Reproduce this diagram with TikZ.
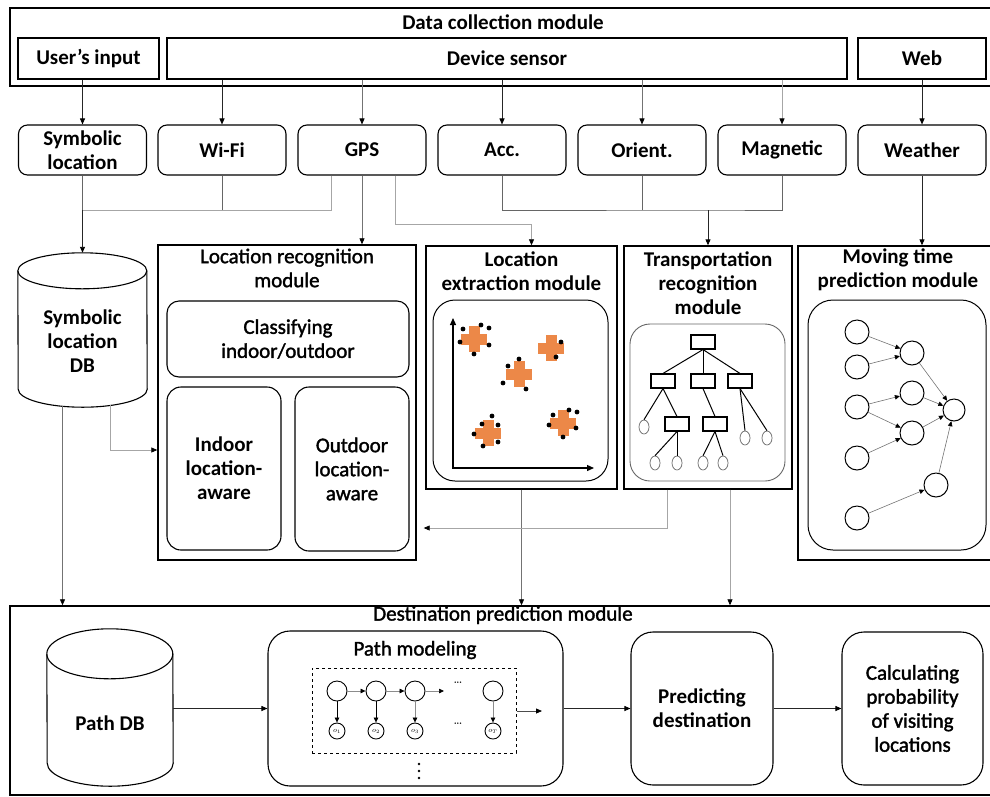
\documentclass[tikz,border=0pt]{standalone}
\usepackage{fontspec}
\setmainfont{Carlito}
\newfontfamily\medfont{Carlito}[FakeBold=1.6]
\usetikzlibrary{arrows.meta,calc,shapes.geometric}
\definecolor{orng}{RGB}{236,136,72}
\begin{document}
\begin{tikzpicture}[x=1pt,y=-1pt,
 every node/.style={inner sep=0pt, align=center, font=\fontsize{21}{24}\selectfont\bfseries},
 lt/.style={font=\fontsize{21}{24}\selectfont\medfont},
 sq/.style={draw, line width=1.2pt},
 rbox/.style={draw, line width=1.1pt, rounded corners=9pt},
 sens/.style={rbox, minimum width=128pt, minimum height=50pt},
 modf/.style={draw, line width=1.4pt},
 tipc/.style={-{Triangle[length=6pt,width=5pt,color=black]}},
 conn/.style={tipc, line width=0.9pt, draw=black!85},
 gconn/.style={tipc, line width=0.8pt, draw=black!55},
 lconn/.style={tipc, line width=0.7pt, draw=black!35},
 lead/.style={line width=0.8pt, draw=black!60},
 llead/.style={line width=0.7pt, draw=black!35},
 cyl/.style={draw, line width=1.1pt, fill=white},
 tb/.style={draw, line width=1.1pt, minimum width=24pt, minimum height=14pt},
 lf/.style={draw=black!60, line width=0.7pt, ellipse, minimum width=10pt, minimum height=14pt},
 tedge/.style={line width=1pt},
 nn/.style={draw, circle, line width=1pt, minimum size=24pt},
 medge/.style={line width=0.6pt, draw=black!55, -{Triangle[length=5pt,width=4.5pt,color=black]}},
 hs/.style={draw, circle, line width=0.9pt, minimum size=20pt},
 os/.style={draw, circle, line width=0.9pt, minimum size=16pt, font=\fontsize{7}{7}\selectfont},
 sedge/.style={line width=0.7pt, draw=black!45, -{Triangle[length=5pt,width=4.5pt,color=black]}},
 orplus/.pic={\fill[orng] (-5.5,-13) rectangle (5.5,13); \fill[orng] (-13,-5.5) rectangle (13,5.5);}
]
\useasboundingbox (0,0) rectangle (990,796);

% ---------- data collection module ----------
\node[modf, minimum width=985pt, minimum height=78pt] (dcm) at (502.5,47) {};
\node (dcmt) at (503,22) {Data collection module};
\node[sq, minimum width=141pt, minimum height=41pt] (uin) at (88.5,58.5) {User’s input};
\node[sq, minimum width=680pt, minimum height=41pt] (dev) at (507,58.5) {Device sensor};
\node[sq, minimum width=128pt, minimum height=41pt] (web) at (922,58.5) {Web};

% ---------- sensors ----------
\node[sens] (symloc) at (82.5,150) {Symbolic\\location};
\node[sens] (wifi) at (222,150) {Wi-Fi};
\node[sens] (gps) at (362,150) {GPS};
\node[sens] (acc) at (502,150) {Acc.};
\node[sens] (orient) at (642,150) {Orient.};
\node[sens] (magn) at (782,150) {Magnetic};
\node[sens] (weather) at (922,150) {Weather};

\draw[conn] (uin.south -| symloc.north) -- (symloc.north);
\draw[conn] (dev.south -| wifi.north) -- (wifi.north);
\draw[gconn] (dev.south -| gps.north) -- (gps.north);
\draw[conn] (dev.south -| acc.north) -- (acc.north);
\draw[gconn] (dev.south -| orient.north) -- (orient.north);
\draw[lconn] (dev.south -| magn.north) -- (magn.north);
\draw[conn] (web.south) -- (weather.north);

% ---------- symbolic location DB ----------
\node[minimum width=129pt, minimum height=154pt] (sdb) at (82.5,330) {};
\draw[cyl] ($(sdb.north west)+(0,18)$) arc[start angle=180,end angle=0,x radius=64.5pt,y radius=18pt]
  -- ($(sdb.south east)+(0,-18)$) arc[start angle=0,end angle=-180,x radius=64.5pt,y radius=18pt] -- cycle;
\draw[cyl, fill=none] ($(sdb.north west)+(0,18)$) arc[start angle=180,end angle=360,x radius=64.5pt,y radius=18pt];
\node (sdbt) at (82.5,341) {Symbolic\\location\\DB};

% ---------- location recognition module ----------
\node[modf, minimum width=258pt, minimum height=315pt] (lrm) at (287,402.5) {};
\node[lt] (lrmt) at (287,268) {Location recognition\\module};
\node[rbox, lt, rounded corners=12pt, minimum width=242pt, minimum height=76pt] (cls) at (288,339) {Classifying\\indoor/outdoor};
\node[rbox, rounded corners=14pt, minimum width=114pt, minimum height=163pt] (ind) at (224,468.5) {Indoor\\location-\\aware};
\node[rbox, lt, rounded corners=14pt, minimum width=114pt, minimum height=164pt] (outd) at (352,469) {Outdoor\\location-\\aware};

% ---------- location extraction module ----------
\node[modf, minimum width=191pt, minimum height=243pt] (lem) at (521.5,367.5) {};
\node (lemt) at (521.5,271) {Location\\extraction module};
\node[draw, line width=1pt, rounded corners=22pt, minimum width=175pt, minimum height=181pt] (lemi) at (520.5,390.5) {};
\coordinate (ax0) at (453,468);
\coordinate (axy) at (453,318);
\coordinate (axx) at (594,468);
\draw[line width=1.2pt, {Triangle[length=7pt,width=6pt]}-{Triangle[length=7pt,width=6pt]}] (axy) -- (ax0) -- (axx);
\pic at (474,339) {orplus};
\pic at (551,348) {orplus};
\pic at (519,374) {orplus};
\pic at (488,433) {orplus};
\pic at (563,423) {orplus};
\foreach \p in {(463,329),(481,325),(489,328),(460,342),(489,345),(474,354),
                (561,342),(556,357),
                (508,366),(519,359),(503,383),(526,389),
                (492,416),(482,424),(498,425),(474,434),(498,442),(483,446),
                (553,415),(569,410),(577,412),(549,425),(576,428),(563,437)}
  \fill \p circle[radius=2.4pt];

% ---------- transportation recognition module ----------
\node[modf, minimum width=168pt, minimum height=243pt] (trm) at (708,367.5) {};
\node (trmt) at (708,283) {Transportation\\recognition\\module};
\node[draw=black!60, line width=0.9pt, rounded corners=20pt, minimum width=155pt, minimum height=157pt] (trmi) at (707.5,402.5) {};
\node[tb] (t0) at (703,342) {};
\node[tb] (t1) at (663,381) {};
\node[tb] (t2) at (703,381) {};
\node[tb] (t3) at (740,381) {};
\node[tb] (t4) at (677,424) {};
\node[tb] (t5) at (715,424) {};
\node[lf] (l1) at (644,427) {};
\node[lf] (l2) at (745,438) {};
\node[lf] (l3) at (767,438) {};
\node[lf] (l4) at (655,463) {};
\node[lf] (l5) at (677,463) {};
\node[lf] (l6) at (703,463) {};
\node[lf] (l7) at (723,463) {};
\draw[tedge] (t0.south) -- (t1.north);
\draw[tedge] (t0.south) -- (t2.north);
\draw[tedge] (t0.south) -- (t3.north);
\draw[tedge] (t1.south) -- (l1.north);
\draw[tedge] (t1.south) -- (t4.north);
\draw[tedge] (t2.south) -- (t5.north);
\draw[tedge] (t3.south) -- (l2.north);
\draw[tedge] (t3.south) -- (l3.north);
\draw[tedge] (t4.south) -- (l4.north);
\draw[tedge] (t4.south) -- (l5.north);
\draw[tedge] (t5.south) -- (l6.north);
\draw[tedge] (t5.south) -- (l7.north);

% ---------- moving time prediction module ----------
\node[modf, minimum width=197pt, minimum height=314pt] (mtp) at (896.5,403) {};
\node (mtpt) at (898,270) {Moving time\\prediction module};
\node[draw, line width=1pt, rounded corners=25pt, minimum width=178pt, minimum height=250pt] (mtpi) at (897,425) {};
\node[nn] (c1) at (857,332) {};
\node[nn] (c2) at (857,367) {};
\node[nn] (c3) at (857,407) {};
\node[nn] (c4) at (857,458) {};
\node[nn] (c5) at (857,518) {};
\node[nn] (m1) at (912,353) {};
\node[nn] (m2) at (912,393) {};
\node[nn] (m3) at (912,433) {};
\node[nn] (m4) at (936,485) {};
\node[nn, minimum size=22pt] (rr) at (954,410) {};
\draw[medge] (c1) -- (m1);
\draw[medge] (c2) -- (m1);
\draw[medge] (c3) -- (m2);
\draw[medge] (c3) -- (m3);
\draw[medge] (c4) -- (m3);
\draw[medge] (c5) -- (m4);
\draw[medge] (m1) -- (rr);
\draw[medge] (m2) -- (rr);
\draw[medge] (m3) -- (rr);
\draw[medge] (m4) -- (rr);

% ---------- connectors of the second row ----------
\coordinate (j1) at (82.5,210);
\coordinate (g1) at ($(gps.south)+(-31,0)$);
\draw[lead] (symloc.south) -- (j1);
\draw[lead] (wifi.south) -- (wifi.south |- j1);
\draw[llead] (g1) |- (j1);
\draw[conn] (j1) -- (j1 |- sdb.north);
\draw[gconn] (gps.south) -- (gps.south |- lrm.north);
\coordinate (g2) at ($(gps.south)+(33,0)$);
\coordinate (g3) at ($(lem.north)+(10,-21)$);
\draw[lconn] (g2) |- (g3) -- (g3 |- lem.north);
\coordinate (j2) at (708,210);
\draw[lead] (acc.south) |- (j2) -| (magn.south);
\draw[lead] (orient.south) -- (orient.south |- j2);
\draw[conn] (j2) -- (j2 |- trm.north);
\draw[conn] (weather.south) -- (weather.south |- mtp.north);

% ---------- destination prediction module ----------
\node[modf, minimum width=985pt, minimum height=189pt] (dpm) at (502.5,700.5) {};
\node[lt] (dpmt) at (503,615) {Destination prediction module};

\node[minimum width=126pt, minimum height=157pt] (pdb) at (110,707.5) {};
\draw[cyl] ($(pdb.north west)+(0,25)$) arc[start angle=180,end angle=0,x radius=63pt,y radius=25pt]
  -- ($(pdb.south east)+(0,-23)$) arc[start angle=0,end angle=-180,x radius=63pt,y radius=23pt] -- cycle;
\draw[cyl, fill=none] ($(pdb.north west)+(0,25)$) arc[start angle=180,end angle=360,x radius=63pt,y radius=25pt];
\node (pdbt) at (110,723) {Path DB};

\node[rbox, rounded corners=22pt, minimum width=295pt, minimum height=155pt] (pmod) at (415.5,708.5) {};
\node[lt] (pmodt) at (415,650) {Path modeling};
\node[draw, dashed, line width=1pt, minimum width=204pt, minimum height=85pt] (dsh) at (414,710.5) {};
\node[hs] (h1) at (337,691) {};
\node[hs] (h2) at (376,691) {};
\node[hs] (h3) at (415,691) {};
\node[hs] (h4) at (493,691) {};
\coordinate (hx) at (444,691);
\node[os] (o1) at (337,731) {$o_1$};
\node[os] (o2) at (376,731) {$o_2$};
\node[os] (o3) at (415,731) {$o_3$};
\node[os] (o4) at (493,731) {$o_T$};
\draw[sedge] (h1) -- (h2);
\draw[sedge] (h2) -- (h3);
\draw[sedge] (h3) -- (hx);
\draw[sedge, draw=black] (h1) -- (o1);
\draw[sedge, draw=black] (h2) -- (o2);
\draw[sedge] (h3) -- (o3);
\draw[sedge] (h4) -- (o4);
\node[font=\fontsize{10}{10}\selectfont] (dd1) at (458,684) {···};
\node[font=\fontsize{10}{10}\selectfont] (dd2) at (458,725) {···};
\foreach \yy in {764,771,778} \fill (419,\yy) circle[radius=1.4pt];
\coordinate (dshout) at (542,711);
\draw[lead, draw=black!70, -{Triangle[length=6pt,width=5pt,color=black]}] (dsh.east |- dshout) -- (dshout);

\node[rbox, rounded corners=22pt, minimum width=142pt, minimum height=153pt] (pred) at (702,708.5) {Predicting\\destination};
\node[rbox, lt, rounded corners=22pt, minimum width=141pt, minimum height=153pt] (calcp) at (912.5,708.5) {Calculating\\probability\\of visiting\\locations};

\draw[conn] (pdb.east |- pmod.west) -- (pmod.west);
\draw[conn] (pmod.east) -- (pred.west);
\draw[conn] (pred.east) -- (calcp.west);

% ---------- connectors into the destination module ----------
\coordinate (a1) at ($(sdb.south)+(-20,-1)$);
\draw[gconn] (a1) -- (a1 |- dpm.north);
\coordinate (a2) at ($(sdb.south)+(27.5,-2)$);
\coordinate (a3) at ($(lrm.west)+(0,47.5)$);
\draw[lconn] (a2) |- (a3);
\draw[gconn] (lem.south) -- (lem.south |- dpm.north);
\coordinate (a4) at ($(trm.south)+(22,0)$);
\draw[lconn] (a4) -- (a4 |- dpm.north);
\coordinate (a5) at ($(trm.south)+(-41,0)$);
\coordinate (a6) at ($(lrm.east)+(0,125.5)$);
\draw[lconn, shorten >=7pt] (a5) |- (a6);
\end{tikzpicture}
\end{document}
